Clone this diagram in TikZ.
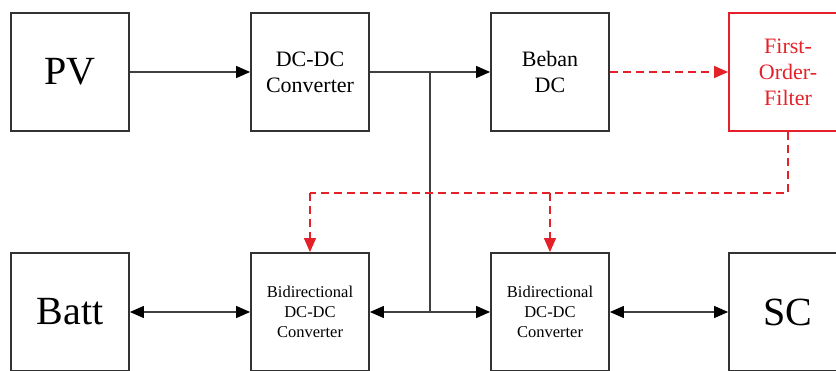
\documentclass[tikz,border=0pt]{standalone}
\usepackage{fontspec}
\setmainfont{Liberation Serif}
\usetikzlibrary{arrows.meta, positioning}

\definecolor{filtred}{RGB}{228,32,40}

\begin{document}
\begin{tikzpicture}[
    x=1pt, y=-1pt,
    block/.style = {rectangle, minimum width=118pt, minimum height=118pt, inner sep=0pt,
                    draw=black!80, line width=1.8pt, text centered, align=center},
    bigtext/.style = {font=\fontsize{40}{44}\selectfont},
    midtext/.style = {font=\fontsize{22}{26}\selectfont},
    smalltext/.style = {font=\fontsize{16.5}{20}\selectfont},
    filterblock/.style = {block, draw=filtred, text=filtred},
    arrow/.style = {-{Triangle[length=14pt, width=12pt, color=black]}, line width=1.2pt, draw=black!75},
    twoway/.style = {{Triangle[length=14pt, width=12pt, color=black]}-{Triangle[length=14pt, width=12pt, color=black]},
                     line width=1.2pt, draw=black!75},
    line/.style = {line width=1.2pt, draw=black!75},
    reddash/.style = {draw=filtred, line width=1.2pt, dash pattern=on 8pt off 5pt},
    redarrow/.style = {reddash, -{Triangle[length=14pt, width=12pt]}}
]

\clip (0,0) rectangle (836,371);

% Nodes - Top row
\node (pv) [block, bigtext] at (70, 72) {PV};
\node (dcdc) [block, midtext] at (310, 72) {DC-DC\\Converter};
\node (beban) [block, midtext] at (550, 72) {Beban\\DC};
\node (filter) [filterblock, midtext] at (788, 72) {First-\\Order-\\Filter};

% Nodes - Bottom row
\node (batt) [block, bigtext] at (70, 312) {Batt};
\node (bidirA) [block, smalltext] at (310, 312) {Bidirectional\\DC-DC\\Converter};
\node (bidirB) [block, smalltext] at (550, 312) {Bidirectional\\DC-DC\\Converter};
\node (sc) [block, bigtext] at (788, 312) {SC};

% Bus points
\coordinate (bustop) at (430, 72);
\coordinate (busbot) at (430, 312);
\coordinate (fbA) at (310, 193);
\coordinate (fbB) at (550, 193);

% Arrows - Power path
\draw [arrow] (pv) -- (dcdc);
\draw [arrow] (dcdc) -- (beban);
\draw [line] (bustop) -- (busbot);
\draw [arrow] (busbot) -- (bidirA);
\draw [arrow] (busbot) -- (bidirB);
\draw [twoway] (batt) -- (bidirA);
\draw [twoway] (bidirB) -- (sc);

% Arrows - Filter signal
\draw [redarrow] (beban) -- (filter);
\draw [reddash] (filter.south) |- (fbA);
\draw [redarrow] (fbA) -- (bidirA);
\draw [redarrow] (fbB) -- (bidirB);

\end{tikzpicture}
\end{document}
